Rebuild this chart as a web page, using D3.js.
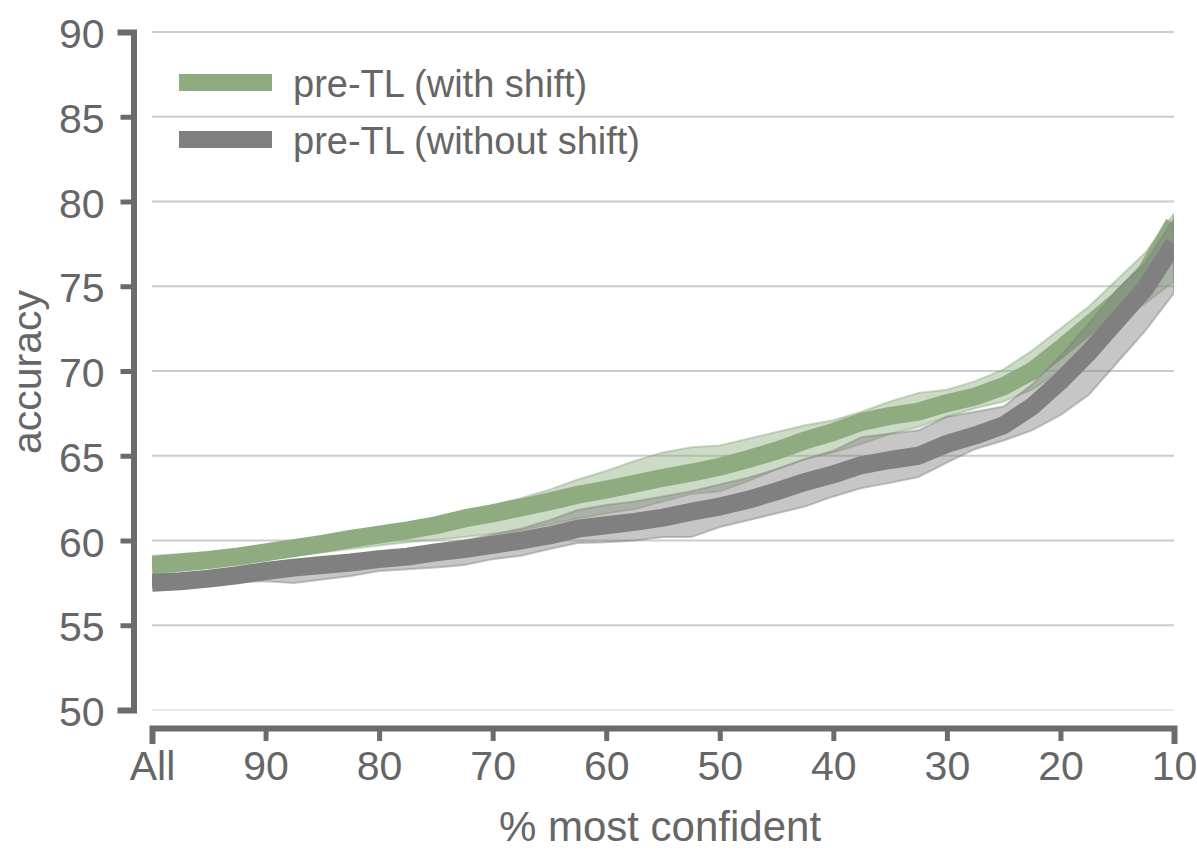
<!DOCTYPE html>
<html>
<head>
<meta charset="utf-8">
<script src="https://cdn.jsdelivr.net/npm/d3@7"></script>
<style>
  body { margin: 0; background: #fff; }
  text { font-family: "Liberation Sans", Arial, sans-serif; fill: #666; }
</style>
</head>
<body>
<script>
// % most confident (x positions)
var pct = [100, 97.5, 95, 92.5, 90, 87.5, 85, 82.5, 80, 77.5, 75, 72.5, 70, 67.5, 65, 62.5, 60, 57.5,
           55, 52.5, 50, 47.5, 45, 42.5, 40, 37.5, 35, 32.5, 30, 27.5, 25, 22.5, 20, 17.5, 15, 12.5, 10];

// pre-TL (with shift)
var greenMean = [58.55, 58.7, 58.85, 59.05, 59.3, 59.55, 59.8, 60.1, 60.35, 60.6, 60.9, 61.3, 61.6, 61.95, 62.3, 62.7, 63.0, 63.35,
                 63.7, 64.0, 64.35, 64.8, 65.3, 65.9, 66.4, 67.0, 67.35, 67.6, 68.1, 68.5, 69.1, 70.0, 71.3, 72.7, 74.1, 75.8, 78.7];
var greenHigh = [59.1, 59.2, 59.3, 59.5, 59.7, 60.0, 60.2, 60.45, 60.7, 60.95, 61.3, 61.7, 62.1, 62.5, 63.0, 63.6, 64.1, 64.7,
                 65.2, 65.5, 65.6, 66.0, 66.4, 66.8, 67.1, 67.6, 68.2, 68.7, 68.9, 69.4, 70.1, 71.2, 72.5, 73.8, 75.4, 77.0, 79.3];
var greenLow  = [58.0, 58.2, 58.4, 58.6, 58.9, 59.1, 59.3, 59.5, 59.7, 59.9, 60.05, 60.2, 60.4, 60.6, 60.95, 61.3, 61.6, 61.85,
                 62.3, 62.75, 62.9, 63.5, 64.2, 64.8, 65.2, 65.7, 66.3, 66.7, 67.3, 67.8, 68.2, 68.9, 70.0, 71.4, 72.8, 74.0, 75.3];

// pre-TL (without shift)
var grayMean = [57.5, 57.6, 57.75, 57.95, 58.2, 58.4, 58.55, 58.7, 58.9, 59.05, 59.3, 59.5, 59.75, 60.0, 60.3, 60.7, 60.9, 61.1,
                61.35, 61.7, 62.0, 62.4, 62.9, 63.45, 63.9, 64.45, 64.75, 65.0, 65.7, 66.2, 66.8, 67.9, 69.4, 71.1, 73.0, 74.9, 77.5];
var grayHigh = [57.8, 57.9, 58.1, 58.3, 58.55, 58.75, 58.9, 59.1, 59.3, 59.5, 59.75, 60.0, 60.35, 60.7, 61.2, 61.8, 62.1, 62.3,
                62.6, 62.9, 63.3, 63.7, 64.2, 64.8, 65.3, 66.1, 66.3, 66.5, 67.3, 67.6, 67.9, 69.2, 70.9, 72.8, 74.8, 76.4, 79.0];
var grayLow  = [57.25, 57.3, 57.4, 57.55, 57.6, 57.5, 57.7, 57.9, 58.2, 58.3, 58.4, 58.55, 58.9, 59.1, 59.5, 59.85, 59.9, 60.0,
                60.2, 60.2, 60.8, 61.2, 61.6, 62.0, 62.6, 63.1, 63.4, 63.75, 64.6, 65.4, 65.9, 66.5, 67.4, 68.6, 70.5, 72.4, 74.6];

var xTicks = [100, 90, 80, 70, 60, 50, 40, 30, 20, 10];
var yTicks = [50, 55, 60, 65, 70, 75, 80, 85, 90];
var seriesNames = ["pre-TL (with shift)", "pre-TL (without shift)"];

var width = 1197, height = 851;
var green = "#8fac80", gray = "#808080", axisColor = "#6b6b6b";

var svg = d3.select("body").append("svg")
    .attr("width", width)
    .attr("height", height);

var x = d3.scaleLinear().domain([100, 10]).range([152, 1174]);
var y = d3.scaleLinear().domain([50, 90]).range([710, 32]);

//gridlines
svg.append("g").selectAll("line")
    .data(yTicks)
    .enter().append("line")
    .attr("x1", x(100)).attr("x2", x(10))
    .attr("y1", function(d){ return y(d); })
    .attr("y2", function(d){ return y(d); })
    .attr("stroke", function(d){ return d == 50 ? "#ebebeb" : "#cccccc"; })
    .attr("stroke-width", 2);

svg.append("clipPath").attr("id", "plotclip")
    .append("rect")
    .attr("x", x(100)).attr("y", y(90))
    .attr("width", x(10) - x(100)).attr("height", y(50) - y(90));

var plot = svg.append("g").attr("clip-path", "url(#plotclip)");

function band(lo, hi) {
    return d3.area()
        .x(function(d, i){ return x(pct[i]); })
        .y0(function(d, i){ return y(lo[i]); })
        .y1(function(d, i){ return y(hi[i]); })(pct);
}
function line(vals) {
    return d3.line()
        .x(function(d, i){ return x(pct[i]); })
        .y(function(d, i){ return y(vals[i]); })(pct);
}

var series = [
    {mean: greenMean, lo: greenLow, hi: greenHigh, color: green},
    {mean: grayMean, lo: grayLow, hi: grayHigh, color: gray}
];

series.forEach(function(s){
    plot.append("path")
        .attr("d", band(s.lo, s.hi))
        .attr("fill", s.color)
        .attr("fill-opacity", 0.45)
        .attr("stroke", s.color)
        .attr("stroke-opacity", 0.45)
        .attr("stroke-width", 2);
    plot.append("path")
        .attr("d", line(s.mean))
        .attr("fill", "none")
        .attr("stroke", s.color)
        .attr("stroke-width", 18)
        .attr("stroke-linejoin", "round");
});

//axes
var yAxis = svg.append("g")
    .attr("transform", "translate(133.5,0)")
    .call(d3.axisLeft(y).tickValues(yTicks).tickSize(13).tickSizeOuter(13).tickPadding(16));
var xAxis = svg.append("g")
    .attr("transform", "translate(0,728)")
    .call(d3.axisBottom(x).tickValues(xTicks).tickSize(13).tickSizeOuter(13).tickPadding(10)
        .tickFormat(function(d){ return d == 100 ? "All" : d; }));

[yAxis, xAxis].forEach(function(ax){
    ax.select(".domain").attr("stroke", axisColor).attr("stroke-width", 6).attr("stroke-linecap", "square");
    ax.selectAll(".tick line").attr("stroke", axisColor).attr("stroke-width", 5);
    ax.selectAll(".tick text").attr("fill", "#666").style("font-size", "41px")
        .style("font-family", "'Liberation Sans', Arial, sans-serif");
});
yAxis.selectAll(".tick text").attr("dy", "0.38em");

//axis labels
svg.append("text")
    .attr("transform", "translate(41,372) rotate(-90)")
    .attr("text-anchor", "middle")
    .style("font-size", "41px")
    .text("accuracy");
svg.append("text")
    .attr("x", 660).attr("y", 841)
    .attr("text-anchor", "middle")
    .style("font-size", "42px")
    .text("% most confident");

//legend
var legend = svg.append("g");
seriesNames.forEach(function(name, i){
    var cy = 82.5 + i * 57;
    legend.append("rect")
        .attr("x", 179).attr("y", cy - 8.5)
        .attr("width", 93).attr("height", 17)
        .attr("fill", series[i].color);
    legend.append("text")
        .attr("x", 293).attr("y", cy + 14)
        .style("font-size", "38px")
        .text(name);
});
</script>
</body>
</html>
